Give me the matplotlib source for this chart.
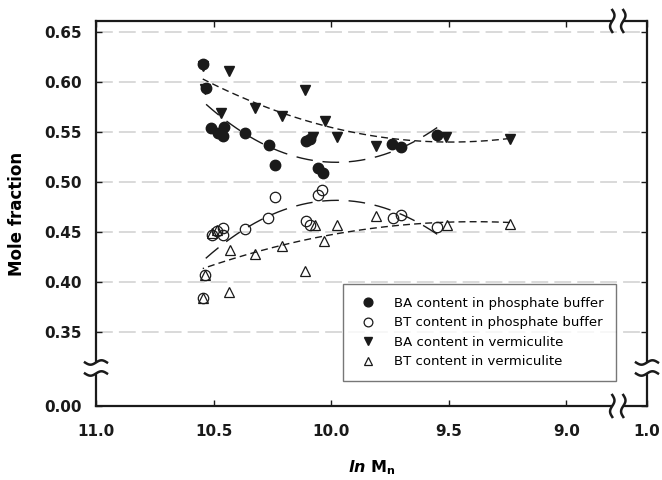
import numpy as np
import matplotlib.pyplot as plt
from matplotlib.lines import Line2D
from matplotlib.patches import Rectangle
from matplotlib.transforms import IdentityTransform

plt.rcParams['font.family'] = ['DejaVu Sans']
plt.rcParams['mathtext.fontset'] = 'custom'
plt.rcParams['mathtext.rm'] = 'DejaVu Sans:bold'
plt.rcParams['mathtext.it'] = 'DejaVu Sans:italic:bold'

# BA / BT mole fractions vs ln Mn
ba_pb_x = [10.546, 10.534, 10.511, 10.480, 10.454, 10.461, 10.365, 10.266, 10.239,
           10.107, 10.090, 10.055, 10.036, 9.740, 9.703, 9.549]
ba_pb_y = [0.618, 0.594, 0.554, 0.549, 0.555, 0.546, 0.549, 0.537, 0.517,
           0.541, 0.543, 0.514, 0.509, 0.538, 0.535, 0.547]

bt_pb_x = [10.546, 10.537, 10.508, 10.484, 10.459, 10.459, 10.366, 10.267, 10.239,
           10.107, 10.090, 10.055, 10.040, 9.736, 9.703, 9.549]
bt_pb_y = [0.3845, 0.4077, 0.4475, 0.451, 0.4475, 0.4542, 0.4532, 0.4641, 0.4847,
           0.4608, 0.457, 0.4874, 0.4923, 0.4641, 0.4674, 0.4548]

ba_vm_x = [10.546, 10.537, 10.433, 10.469, 10.324, 10.209, 10.111, 10.076, 10.026,
           9.977, 9.810, 9.512, 9.240]
ba_vm_y = [0.616, 0.593, 0.611, 0.569, 0.574, 0.566, 0.592, 0.545, 0.561,
           0.545, 0.5355, 0.5454, 0.5428]

bt_vm_x = [10.546, 10.537, 10.508, 10.484, 10.430, 10.433, 10.324, 10.210, 10.111,
           10.069, 10.031, 9.977, 9.810, 9.509, 9.240]
bt_vm_y = [0.3845, 0.4077, 0.4492, 0.4525, 0.4325, 0.390, 0.4286, 0.4358, 0.411,
           0.4575, 0.4415, 0.4575, 0.4664, 0.4571, 0.4585]

# broken axes: bottom of y range is labelled 0.00, right end of x range 1.0
y_lo, y_hi = 0.2766, 0.6607
x_lo, x_hi = 11.0, 8.657
y_ticks = [y_lo, 0.35, 0.40, 0.45, 0.50, 0.55, 0.60, 0.65]
y_labels = ['0.00', '0.35', '0.40', '0.45', '0.50', '0.55', '0.60', '0.65']
x_ticks = [11.0, 10.5, 10.0, 9.5, 9.0, x_hi]
x_labels = ['11.0', '10.5', '10.0', '9.5', '9.0', '1.0']

ink = '#1a1a1a'

fig = plt.figure(figsize=(6.62, 4.8), dpi=100)
ax = fig.add_axes([0.145, 0.1542, 0.8323, 0.8021])


def fit_line(x, y, dashes):
    x = np.asarray(x)
    coef = np.polyfit(x, y, 2)
    xs = np.linspace(x.min(), x.max(), 200)
    ax.plot(xs, np.polyval(coef, xs), color=ink, lw=1.0, dashes=dashes, zorder=2)


fit_line(ba_pb_x, ba_pb_y, (12, 7))
fit_line(bt_pb_x, bt_pb_y, (12, 7))
fit_line(ba_vm_x, ba_vm_y, (5, 3))
fit_line(bt_vm_x, bt_vm_y, (5, 3))

ms = 7.5
ax.plot(ba_pb_x, ba_pb_y, 'o', ms=ms, mfc=ink, mec=ink, zorder=3)
ax.plot(bt_pb_x, bt_pb_y, 'o', ms=ms, mfc='none', mec=ink, mew=0.9, zorder=3)
ax.plot(ba_vm_x, ba_vm_y, 'v', ms=ms, mfc=ink, mec=ink, zorder=3)
ax.plot(bt_vm_x, bt_vm_y, '^', ms=ms, mfc='none', mec=ink, mew=0.9, zorder=3)

ax.set_xlim(x_lo, x_hi)
ax.set_ylim(y_lo, y_hi)
ax.set_xticks(x_ticks)
ax.set_xticklabels(x_labels)
ax.set_yticks(y_ticks)
ax.set_yticklabels(y_labels)
ax.tick_params(direction='in', top=True, right=True, length=4, width=1.0,
               labelsize=11, colors=ink)
ax.tick_params(axis='x', pad=13)
ax.tick_params(axis='y', pad=10)
for lab in ax.get_xticklabels() + ax.get_yticklabels():
    lab.set_fontweight('bold')

for v in y_ticks[1:]:
    ax.axhline(v, color='#d0d0d0', lw=1.1, dashes=(11, 4), zorder=1)

for sp in ax.spines.values():
    sp.set_linewidth(1.6)
    sp.set_color(ink)

ax.set_ylabel('Mole fraction', fontsize=12, fontweight='bold', labelpad=13)
ax.set_xlabel(r'$\mathit{ln}\ \mathrm{M}_{\mathrm{n}}$', fontsize=11.5, labelpad=14)

handles = [
    Line2D([], [], ls='none', marker='o', ms=6.3, mfc=ink, mec=ink),
    Line2D([], [], ls='none', marker='o', ms=6.3, mfc='none', mec=ink, mew=0.9),
    Line2D([], [], ls='none', marker='v', ms=6.3, mfc=ink, mec=ink),
    Line2D([], [], ls='none', marker='^', ms=6.3, mfc='none', mec=ink, mew=0.9),
]
labels = ['BA content in phosphate buffer', 'BT content in phosphate buffer',
          'BA content in vermiculite', 'BT content in vermiculite']
leg = ax.legend(handles, labels, loc='lower right', bbox_to_anchor=(0.944, 0.065),
                fontsize=9.5, frameon=True, fancybox=False, borderpad=0.95,
                labelspacing=0.5, handletextpad=1.1, handlelength=1.8,
                borderaxespad=0)
leg.get_frame().set_edgecolor('#555555')
leg.get_frame().set_linewidth(1.0)

# axis break marks, drawn in display pixels around the spines
fig.canvas.draw()
ident = IdentityTransform()


def wave_pair(cx, cy, horizontal):
    t = np.linspace(-1, 1, 40)
    gap = 5.5
    if horizontal:
        fig.patches.append(Rectangle((cx - 4, cy - gap), 8, 2 * gap, transform=ident,
                                     facecolor='white', edgecolor='none', zorder=5))
        for off in (-gap, gap):
            xs = cx + 11 * t
            ys = cy + off + 2.2 * np.sin(np.pi * t)
            fig.lines.append(Line2D(xs, ys, transform=ident, color=ink, lw=1.8, zorder=6))
    else:
        fig.patches.append(Rectangle((cx - gap, cy - 4), 2 * gap, 8, transform=ident,
                                     facecolor='white', edgecolor='none', zorder=5))
        for off in (-gap, gap):
            ys = cy + 11 * t
            xs = cx + off + 2.2 * np.sin(np.pi * t)
            fig.lines.append(Line2D(xs, ys, transform=ident, color=ink, lw=1.8, zorder=6))


y_brk = 0.0987
x_brk = 0.947
for px, py in [(0, y_brk), (1, y_brk)]:
    cx, cy = ax.transAxes.transform((px, py))
    wave_pair(cx, cy, True)
for px, py in [(x_brk, 0), (x_brk, 1)]:
    cx, cy = ax.transAxes.transform((px, py))
    wave_pair(cx, cy, False)

fig.savefig('out.png', dpi=100)
